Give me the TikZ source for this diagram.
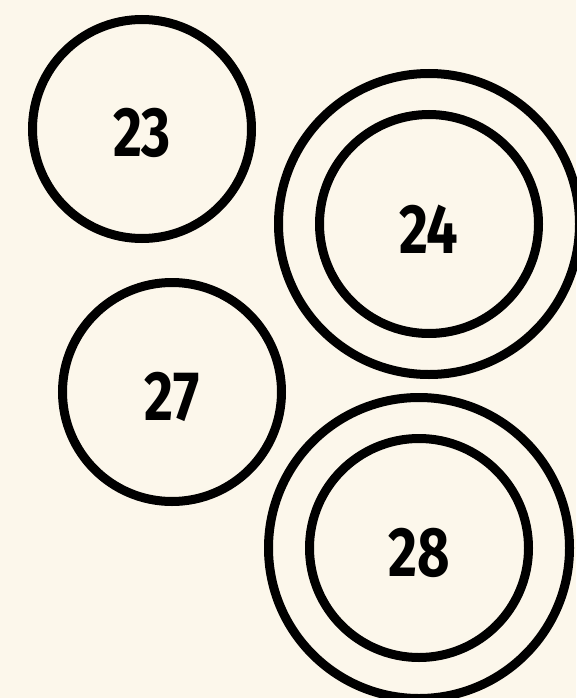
\documentclass[tikz,border=0pt]{standalone}
\usepackage{fontspec}
\setmainfont[FakeStretch=0.8]{Fira Sans}
\definecolor{paper}{HTML}{FCF7EB}
\begin{document}
\begin{tikzpicture}[x=1pt,y=-1pt,
  ring/.style={draw=black, line width=9pt, circle, inner sep=0pt, minimum size=219pt},
  bigring/.style={ring, minimum size=301pt},
  num/.style={font=\fontsize{70}{70}\selectfont\bfseries, inner sep=0pt}]
\fill[paper] (0,0) rectangle (576,698);
\useasboundingbox (0,0) rectangle (576,698);
\node[ring] (c23) at (142,129) {};
\node[ring] (c24) at (429,224) {};
\node[bigring] (o24) at (429,224) {};
\node[ring] (c27) at (172,392) {};
\node[ring] (c28) at (419,548) {};
\node[bigring] (o28) at (419,548) {};
\node[num, yshift=-4pt] (t23) at (c23.center) {23};
\node[num, yshift=-5pt] (t24) at (c24.center) {24};
\node[num, yshift=-5pt] (t27) at (c27.center) {27};
\node[num, yshift=-5pt] (t28) at (c28.center) {28};
\end{tikzpicture}
\end{document}
